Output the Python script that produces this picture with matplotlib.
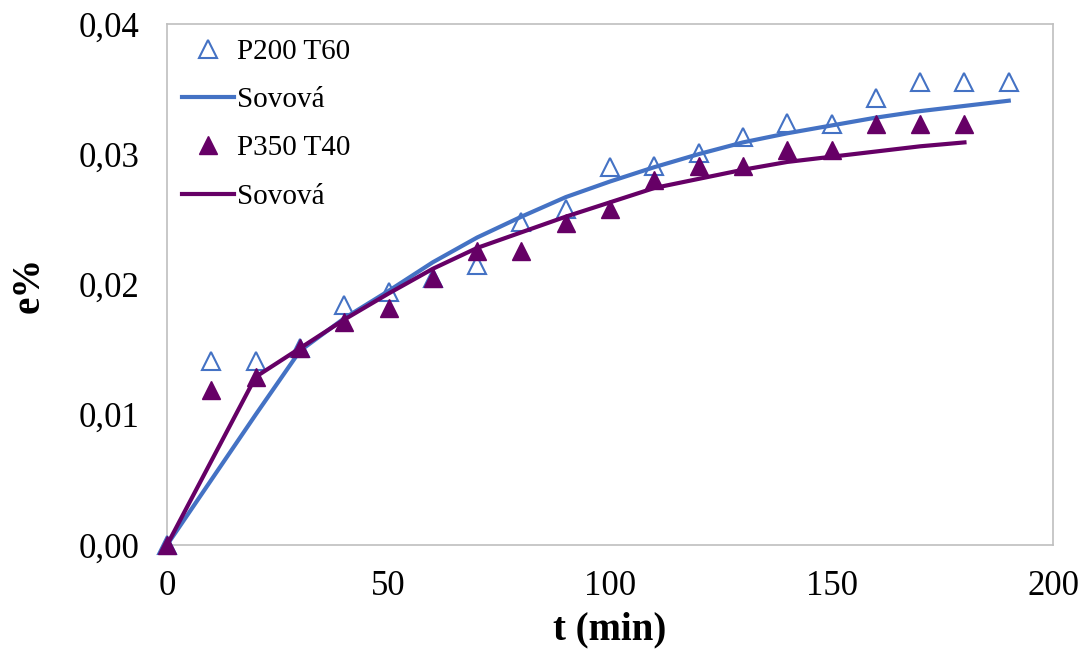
import matplotlib.pyplot as plt
from matplotlib.ticker import FixedLocator

plt.rcParams['font.family'] = ['Liberation Serif', 'DejaVu Serif']

# measured points
t_p200 = [0, 10, 20, 30, 40, 50, 60, 70, 80, 90, 100, 110, 120, 130, 140, 150, 160, 170, 180, 190]
e_p200 = [0.0, 0.0141, 0.0141, 0.0151, 0.0184, 0.0194, 0.0205, 0.0215, 0.0248, 0.0258,
          0.0290, 0.0291, 0.0301, 0.0313, 0.0324, 0.0323, 0.0343, 0.0355, 0.0355, 0.0355]

t_p350 = [0, 10, 20, 30, 40, 50, 60, 70, 80, 90, 100, 110, 120, 130, 140, 150, 160, 170, 180]
e_p350 = [0.0, 0.0119, 0.0129, 0.0151, 0.0171, 0.0182, 0.0205, 0.0226, 0.0226, 0.0247,
          0.0258, 0.0280, 0.0291, 0.0291, 0.0303, 0.0303, 0.0323, 0.0323, 0.0323]

# Sovova model curves
t_fit200 = [0, 10, 20, 30, 40, 50, 60, 70, 80, 90, 100, 110, 120, 130, 140, 150, 160, 170, 180, 190]
e_fit200 = [0.0, 0.0050, 0.0100, 0.0149, 0.0174, 0.0195, 0.0217, 0.0236, 0.0252, 0.0267,
            0.0279, 0.0290, 0.0300, 0.0309, 0.0316, 0.0322, 0.0328, 0.0333, 0.0337, 0.0341]

t_fit350 = [0, 20, 30, 40, 50, 60, 70, 80, 90, 100, 110, 120, 130, 140, 150, 160, 170, 180]
e_fit350 = [0.0, 0.0129, 0.0151, 0.0173, 0.0193, 0.0212, 0.0228, 0.0240, 0.0252, 0.0263,
            0.0274, 0.0281, 0.0288, 0.0294, 0.0298, 0.0302, 0.0306, 0.0309]

xticks = [0, 50, 100, 150, 200]
yticks = [0.0, 0.01, 0.02, 0.03, 0.04]
ytick_labels = ['0,00', '0,01', '0,02', '0,03', '0,04']

blue = '#4472C4'
purple = '#660066'

fig = plt.figure(figsize=(10.89, 6.55), dpi=100)
ax = fig.add_axes([0.1534, 0.168, 0.8136, 0.7956])

ax.plot(t_p200, e_p200, linestyle='none', marker='^', markersize=13,
        markerfacecolor='none', markeredgecolor=blue, markeredgewidth=1.5,
        label='P200 T60', clip_on=False, zorder=3)
ax.plot(t_fit200, e_fit200, color=blue, linewidth=3, label='Sovová', zorder=3)
ax.plot(t_p350, e_p350, linestyle='none', marker='^', markersize=13,
        color=purple, label='P350 T40', clip_on=False, zorder=4)
ax.plot(t_fit350, e_fit350, color=purple, linewidth=3, label='Sovová', zorder=4)

ax.set_xlim(0, 200)
ax.set_ylim(0, 0.04)
ax.xaxis.set_major_locator(FixedLocator(xticks))
ax.set_yticks(yticks)
ax.set_yticklabels(ytick_labels)
ax.tick_params(length=0, labelsize=25)
ax.tick_params(axis='x', pad=18)
ax.tick_params(axis='y', pad=20)

for s in ax.spines.values():
    s.set_color('#BFBFBF')
    s.set_linewidth(1.2)

ax.set_xlabel('t (min)', fontsize=28, fontweight='bold', labelpad=6)
ax.set_ylabel('e%', fontsize=28, fontweight='bold', labelpad=22)

leg = ax.legend(loc='upper left', bbox_to_anchor=(0.0, 1.0), frameon=False,
                fontsize=21, handlelength=1.8, handletextpad=0.1,
                labelspacing=0.75, borderaxespad=0.3, borderpad=0.2)

fig.savefig('out.png', dpi=100)
